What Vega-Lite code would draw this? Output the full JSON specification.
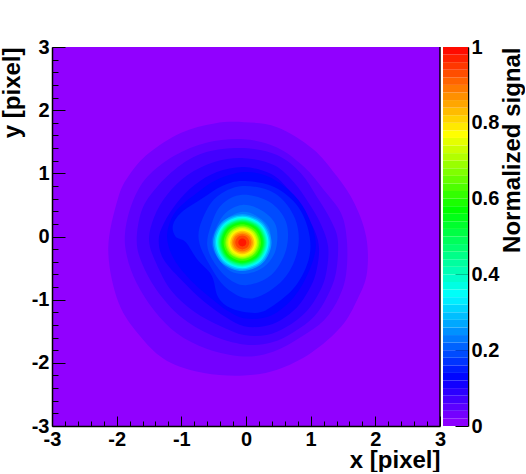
{"$schema":"https://vega.github.io/schema/vega-lite/v6.json","background":"white","padding":{"left":0,"top":37,"right":0,"bottom":0},"bounds":"flush","spacing":3,"config":{"axis":{"labelFont":"Liberation Sans","titleFont":"Liberation Sans","labelFontWeight":"bold","titleFontWeight":"bold","labelFontSize":20,"titleFontSize":24,"labelColor":"black","titleColor":"black","grid":false,"domainColor":"black","tickColor":"black","domainWidth":1.5,"tickWidth":1,"zindex":1,"labelFlush":false,"labelBound":false},"view":{"stroke":null}},
"datasets":{"contours":[
{"v":0.03,"i":0,"x":-0.03,"y":1.81},{"v":0.03,"i":1,"x":0.48,"y":1.73},{"v":0.03,"i":2,"x":1.03,"y":1.39},{"v":0.03,"i":3,"x":1.4,"y":0.96},{"v":0.03,"i":4,"x":1.68,"y":0.52},{"v":0.03,"i":5,"x":1.86,"y":-0.01},{"v":0.03,"i":6,"x":1.87,"y":-0.58},{"v":0.03,"i":7,"x":1.72,"y":-1.0},{"v":0.03,"i":8,"x":1.47,"y":-1.43},{"v":0.03,"i":9,"x":1.01,"y":-1.84},{"v":0.03,"i":10,"x":0.48,"y":-2.11},{"v":0.03,"i":11,"x":-0.03,"y":-2.2},{"v":0.03,"i":12,"x":-0.65,"y":-2.16},{"v":0.03,"i":13,"x":-1.22,"y":-1.97},{"v":0.03,"i":14,"x":-1.62,"y":-1.6},{"v":0.03,"i":15,"x":-1.97,"y":-1.05},{"v":0.03,"i":16,"x":-2.13,"y":-0.21},{"v":0.03,"i":17,"x":-1.98,"y":0.6},{"v":0.03,"i":18,"x":-1.8,"y":0.98},{"v":0.03,"i":19,"x":-1.5,"y":1.32},{"v":0.03,"i":20,"x":-1.01,"y":1.64},{"v":0.03,"i":21,"x":-0.49,"y":1.79},
{"v":0.05,"i":0,"x":-0.03,"y":1.54},{"v":0.05,"i":1,"x":0.48,"y":1.41},{"v":0.05,"i":2,"x":0.9,"y":1.1},{"v":0.05,"i":3,"x":1.21,"y":0.73},{"v":0.05,"i":4,"x":1.47,"y":0.37},{"v":0.05,"i":5,"x":1.56,"y":-0.06},{"v":0.05,"i":6,"x":1.55,"y":-0.58},{"v":0.05,"i":7,"x":1.44,"y":-0.96},{"v":0.05,"i":8,"x":1.21,"y":-1.32},{"v":0.05,"i":9,"x":0.85,"y":-1.59},{"v":0.05,"i":10,"x":0.43,"y":-1.82},{"v":0.05,"i":11,"x":-0.03,"y":-1.9},{"v":0.05,"i":12,"x":-0.6,"y":-1.78},{"v":0.05,"i":13,"x":-1.07,"y":-1.53},{"v":0.05,"i":14,"x":-1.42,"y":-1.17},{"v":0.05,"i":15,"x":-1.69,"y":-0.74},{"v":0.05,"i":16,"x":-1.84,"y":-0.32},{"v":0.05,"i":17,"x":-1.87,"y":0.06},{"v":0.05,"i":18,"x":-1.76,"y":0.53},{"v":0.05,"i":19,"x":-1.53,"y":0.94},{"v":0.05,"i":20,"x":-1.11,"y":1.28},{"v":0.05,"i":21,"x":-0.6,"y":1.49},
{"v":0.07,"i":0,"x":-0.03,"y":1.4},{"v":0.07,"i":1,"x":0.48,"y":1.29},{"v":0.07,"i":2,"x":0.85,"y":1.0},{"v":0.07,"i":3,"x":1.1,"y":0.62},{"v":0.07,"i":4,"x":1.31,"y":0.26},{"v":0.07,"i":5,"x":1.42,"y":-0.06},{"v":0.07,"i":6,"x":1.39,"y":-0.58},{"v":0.07,"i":7,"x":1.25,"y":-0.96},{"v":0.07,"i":8,"x":1.05,"y":-1.27},{"v":0.07,"i":9,"x":0.74,"y":-1.51},{"v":0.07,"i":10,"x":0.39,"y":-1.68},{"v":0.07,"i":11,"x":-0.03,"y":-1.71},{"v":0.07,"i":12,"x":-0.54,"y":-1.56},{"v":0.07,"i":13,"x":-1.01,"y":-1.27},{"v":0.07,"i":14,"x":-1.38,"y":-0.85},{"v":0.07,"i":15,"x":-1.61,"y":-0.42},{"v":0.07,"i":16,"x":-1.69,"y":-0.06},{"v":0.07,"i":17,"x":-1.61,"y":0.42},{"v":0.07,"i":18,"x":-1.38,"y":0.78},{"v":0.07,"i":19,"x":-1.01,"y":1.13},{"v":0.07,"i":20,"x":-0.6,"y":1.34},
{"v":0.09,"i":0,"x":-0.03,"y":1.24},{"v":0.09,"i":1,"x":0.43,"y":1.13},{"v":0.09,"i":2,"x":0.74,"y":0.86},{"v":0.09,"i":3,"x":0.97,"y":0.53},{"v":0.09,"i":4,"x":1.15,"y":0.21},{"v":0.09,"i":5,"x":1.27,"y":-0.16},{"v":0.09,"i":6,"x":1.24,"y":-0.58},{"v":0.09,"i":7,"x":1.13,"y":-0.89},{"v":0.09,"i":8,"x":0.93,"y":-1.19},{"v":0.09,"i":9,"x":0.63,"y":-1.43},{"v":0.09,"i":10,"x":0.32,"y":-1.56},{"v":0.09,"i":11,"x":-0.03,"y":-1.56},{"v":0.09,"i":12,"x":-0.39,"y":-1.42},{"v":0.09,"i":13,"x":-0.8,"y":-1.19},{"v":0.09,"i":14,"x":-1.16,"y":-0.85},{"v":0.09,"i":15,"x":-1.39,"y":-0.42},{"v":0.09,"i":16,"x":-1.5,"y":-0.06},{"v":0.09,"i":17,"x":-1.42,"y":0.31},{"v":0.09,"i":18,"x":-1.22,"y":0.66},{"v":0.09,"i":19,"x":-0.91,"y":0.97},{"v":0.09,"i":20,"x":-0.49,"y":1.18},
{"v":0.11,"i":0,"x":-0.03,"y":1.1},{"v":0.11,"i":1,"x":0.39,"y":0.99},{"v":0.11,"i":2,"x":0.66,"y":0.74},{"v":0.11,"i":3,"x":0.88,"y":0.42},{"v":0.11,"i":4,"x":1.06,"y":0.1},{"v":0.11,"i":5,"x":1.13,"y":-0.2},{"v":0.11,"i":6,"x":1.08,"y":-0.58},{"v":0.11,"i":7,"x":0.97,"y":-0.85},{"v":0.11,"i":8,"x":0.79,"y":-1.12},{"v":0.11,"i":9,"x":0.54,"y":-1.32},{"v":0.11,"i":10,"x":0.28,"y":-1.42},{"v":0.11,"i":11,"x":-0.03,"y":-1.42},{"v":0.11,"i":12,"x":-0.31,"y":-1.28},{"v":0.11,"i":13,"x":-0.65,"y":-1.03},{"v":0.11,"i":14,"x":-0.96,"y":-0.73},{"v":0.11,"i":15,"x":-1.27,"y":-0.37},{"v":0.11,"i":16,"x":-1.35,"y":-0.06},{"v":0.11,"i":17,"x":-1.27,"y":0.21},{"v":0.11,"i":18,"x":-1.07,"y":0.53},{"v":0.11,"i":19,"x":-0.8,"y":0.81},{"v":0.11,"i":20,"x":-0.45,"y":1.02},
{"v":0.13,"i":0,"x":-0.03,"y":1.02},{"v":0.13,"i":1,"x":0.36,"y":0.94},{"v":0.13,"i":2,"x":0.74,"y":0.66},{"v":0.13,"i":3,"x":0.97,"y":0.3},{"v":0.13,"i":4,"x":1.08,"y":-0.13},{"v":0.13,"i":5,"x":0.97,"y":-0.56},{"v":0.13,"i":6,"x":0.74,"y":-0.96},{"v":0.13,"i":7,"x":0.39,"y":-1.25},{"v":0.13,"i":8,"x":0.0,"y":-1.3},{"v":0.13,"i":9,"x":-0.28,"y":-1.18},{"v":0.13,"i":10,"x":-0.55,"y":-0.97},{"v":0.13,"i":11,"x":-0.82,"y":-0.73},{"v":0.13,"i":12,"x":-1.09,"y":-0.4},{"v":0.13,"i":13,"x":-1.21,"y":-0.1},{"v":0.13,"i":14,"x":-1.2,"y":0.15},{"v":0.13,"i":15,"x":-1.07,"y":0.42},{"v":0.13,"i":16,"x":-0.76,"y":0.69},{"v":0.13,"i":17,"x":-0.45,"y":0.9},
{"v":0.15,"i":0,"x":-0.06,"y":0.88},{"v":0.15,"i":1,"x":0.4,"y":0.8},{"v":0.15,"i":2,"x":0.77,"y":0.52},{"v":0.15,"i":3,"x":0.96,"y":0.12},{"v":0.15,"i":4,"x":0.98,"y":-0.32},{"v":0.15,"i":5,"x":0.77,"y":-0.78},{"v":0.15,"i":6,"x":0.4,"y":-1.11},{"v":0.15,"i":7,"x":0.15,"y":-1.21},{"v":0.15,"i":8,"x":-0.22,"y":-1.14},{"v":0.15,"i":9,"x":-0.43,"y":-0.96},{"v":0.15,"i":10,"x":-0.53,"y":-0.62},{"v":0.15,"i":11,"x":-0.75,"y":-0.37},{"v":0.15,"i":12,"x":-0.93,"y":-0.09},{"v":0.15,"i":13,"x":-1.09,"y":0.0},{"v":0.15,"i":14,"x":-1.13,"y":0.18},{"v":0.15,"i":15,"x":-1.0,"y":0.38},{"v":0.15,"i":16,"x":-0.68,"y":0.6},{"v":0.15,"i":17,"x":-0.37,"y":0.8},
{"v":0.17,"i":0,"x":-0.06,"y":0.8},{"v":0.17,"i":1,"x":0.45,"y":0.68},{"v":0.17,"i":2,"x":0.76,"y":0.28},{"v":0.17,"i":3,"x":0.8,"y":-0.21},{"v":0.17,"i":4,"x":0.57,"y":-0.69},{"v":0.17,"i":5,"x":0.1,"y":-0.98},{"v":0.17,"i":6,"x":-0.3,"y":-0.82},{"v":0.17,"i":7,"x":-0.58,"y":-0.42},{"v":0.17,"i":8,"x":-0.73,"y":-0.06},{"v":0.17,"i":9,"x":-0.68,"y":0.26},{"v":0.17,"i":10,"x":-0.46,"y":0.62},
{"v":0.19,"i":0,"x":-0.06,"y":0.66},{"v":0.19,"i":1,"x":0.36,"y":0.55},{"v":0.19,"i":2,"x":0.62,"y":0.23},{"v":0.19,"i":3,"x":0.62,"y":-0.21},{"v":0.19,"i":4,"x":0.39,"y":-0.61},{"v":0.19,"i":5,"x":0.0,"y":-0.77},{"v":0.19,"i":6,"x":-0.28,"y":-0.66},{"v":0.19,"i":7,"x":-0.5,"y":-0.4},{"v":0.19,"i":8,"x":-0.6,"y":-0.13},{"v":0.19,"i":9,"x":-0.54,"y":0.18},{"v":0.19,"i":10,"x":-0.38,"y":0.5},
{"v":0.21,"i":0,"x":-0.06,"y":0.5},{"v":0.21,"i":1,"x":0.23,"y":0.42},{"v":0.21,"i":2,"x":0.46,"y":0.18},{"v":0.21,"i":3,"x":0.46,"y":-0.21},{"v":0.21,"i":4,"x":0.28,"y":-0.48},{"v":0.21,"i":5,"x":0.0,"y":-0.59},{"v":0.21,"i":6,"x":-0.24,"y":-0.55},{"v":0.21,"i":7,"x":-0.42,"y":-0.37},{"v":0.21,"i":8,"x":-0.53,"y":-0.13},{"v":0.21,"i":9,"x":-0.48,"y":0.1},{"v":0.21,"i":10,"x":-0.32,"y":0.37},
{"v":0.23,"i":0,"x":-0.05,"y":0.39},{"v":0.23,"i":1,"x":0.17,"y":0.32},{"v":0.23,"i":2,"x":0.36,"y":0.13},{"v":0.23,"i":3,"x":0.36,"y":-0.18},{"v":0.23,"i":4,"x":0.2,"y":-0.42},{"v":0.23,"i":5,"x":-0.02,"y":-0.52},{"v":0.23,"i":6,"x":-0.23,"y":-0.49},{"v":0.23,"i":7,"x":-0.39,"y":-0.34},{"v":0.23,"i":8,"x":-0.48,"y":-0.13},{"v":0.23,"i":9,"x":-0.43,"y":0.07},{"v":0.23,"i":10,"x":-0.28,"y":0.29},
{"v":0.26,"i":0,"x":0.395,"y":-0.095},{"v":0.26,"i":1,"x":0.263,"y":0.225},{"v":0.26,"i":2,"x":-0.057,"y":0.357},{"v":0.26,"i":3,"x":-0.377,"y":0.225},{"v":0.26,"i":4,"x":-0.509,"y":-0.095},{"v":0.26,"i":5,"x":-0.377,"y":-0.415},{"v":0.26,"i":6,"x":-0.057,"y":-0.547},{"v":0.26,"i":7,"x":0.263,"y":-0.415},
{"v":0.3,"i":0,"x":0.372,"y":-0.095},{"v":0.3,"i":1,"x":0.246,"y":0.208},{"v":0.3,"i":2,"x":-0.057,"y":0.334},{"v":0.3,"i":3,"x":-0.36,"y":0.208},{"v":0.3,"i":4,"x":-0.486,"y":-0.095},{"v":0.3,"i":5,"x":-0.36,"y":-0.398},{"v":0.3,"i":6,"x":-0.057,"y":-0.524},{"v":0.3,"i":7,"x":0.246,"y":-0.398},
{"v":0.34,"i":0,"x":0.349,"y":-0.095},{"v":0.34,"i":1,"x":0.23,"y":0.192},{"v":0.34,"i":2,"x":-0.057,"y":0.311},{"v":0.34,"i":3,"x":-0.344,"y":0.192},{"v":0.34,"i":4,"x":-0.463,"y":-0.095},{"v":0.34,"i":5,"x":-0.344,"y":-0.382},{"v":0.34,"i":6,"x":-0.057,"y":-0.501},{"v":0.34,"i":7,"x":0.23,"y":-0.382},
{"v":0.38,"i":0,"x":0.333,"y":-0.095},{"v":0.38,"i":1,"x":0.219,"y":0.181},{"v":0.38,"i":2,"x":-0.057,"y":0.295},{"v":0.38,"i":3,"x":-0.333,"y":0.181},{"v":0.38,"i":4,"x":-0.447,"y":-0.095},{"v":0.38,"i":5,"x":-0.333,"y":-0.371},{"v":0.38,"i":6,"x":-0.057,"y":-0.485},{"v":0.38,"i":7,"x":0.219,"y":-0.371},
{"v":0.42,"i":0,"x":0.317,"y":-0.095},{"v":0.42,"i":1,"x":0.207,"y":0.169},{"v":0.42,"i":2,"x":-0.057,"y":0.279},{"v":0.42,"i":3,"x":-0.321,"y":0.169},{"v":0.42,"i":4,"x":-0.431,"y":-0.095},{"v":0.42,"i":5,"x":-0.321,"y":-0.359},{"v":0.42,"i":6,"x":-0.057,"y":-0.469},{"v":0.42,"i":7,"x":0.207,"y":-0.359},
{"v":0.46,"i":0,"x":0.302,"y":-0.095},{"v":0.46,"i":1,"x":0.197,"y":0.159},{"v":0.46,"i":2,"x":-0.057,"y":0.264},{"v":0.46,"i":3,"x":-0.311,"y":0.159},{"v":0.46,"i":4,"x":-0.416,"y":-0.095},{"v":0.46,"i":5,"x":-0.311,"y":-0.349},{"v":0.46,"i":6,"x":-0.057,"y":-0.454},{"v":0.46,"i":7,"x":0.197,"y":-0.349},
{"v":0.5,"i":0,"x":0.286,"y":-0.095},{"v":0.5,"i":1,"x":0.186,"y":0.148},{"v":0.5,"i":2,"x":-0.057,"y":0.248},{"v":0.5,"i":3,"x":-0.3,"y":0.148},{"v":0.5,"i":4,"x":-0.4,"y":-0.095},{"v":0.5,"i":5,"x":-0.3,"y":-0.338},{"v":0.5,"i":6,"x":-0.057,"y":-0.438},{"v":0.5,"i":7,"x":0.186,"y":-0.338},
{"v":0.54,"i":0,"x":0.271,"y":-0.095},{"v":0.54,"i":1,"x":0.175,"y":0.137},{"v":0.54,"i":2,"x":-0.057,"y":0.233},{"v":0.54,"i":3,"x":-0.289,"y":0.137},{"v":0.54,"i":4,"x":-0.385,"y":-0.095},{"v":0.54,"i":5,"x":-0.289,"y":-0.327},{"v":0.54,"i":6,"x":-0.057,"y":-0.423},{"v":0.54,"i":7,"x":0.175,"y":-0.327},
{"v":0.58,"i":0,"x":0.255,"y":-0.095},{"v":0.58,"i":1,"x":0.164,"y":0.126},{"v":0.58,"i":2,"x":-0.057,"y":0.217},{"v":0.58,"i":3,"x":-0.278,"y":0.126},{"v":0.58,"i":4,"x":-0.369,"y":-0.095},{"v":0.58,"i":5,"x":-0.278,"y":-0.316},{"v":0.58,"i":6,"x":-0.057,"y":-0.407},{"v":0.58,"i":7,"x":0.164,"y":-0.316},
{"v":0.62,"i":0,"x":0.232,"y":-0.095},{"v":0.62,"i":1,"x":0.147,"y":0.109},{"v":0.62,"i":2,"x":-0.057,"y":0.194},{"v":0.62,"i":3,"x":-0.261,"y":0.109},{"v":0.62,"i":4,"x":-0.346,"y":-0.095},{"v":0.62,"i":5,"x":-0.261,"y":-0.299},{"v":0.62,"i":6,"x":-0.057,"y":-0.384},{"v":0.62,"i":7,"x":0.147,"y":-0.299},
{"v":0.66,"i":0,"x":0.208,"y":-0.095},{"v":0.66,"i":1,"x":0.13,"y":0.092},{"v":0.66,"i":2,"x":-0.057,"y":0.17},{"v":0.66,"i":3,"x":-0.244,"y":0.092},{"v":0.66,"i":4,"x":-0.322,"y":-0.095},{"v":0.66,"i":5,"x":-0.244,"y":-0.282},{"v":0.66,"i":6,"x":-0.057,"y":-0.36},{"v":0.66,"i":7,"x":0.13,"y":-0.282},
{"v":0.7,"i":0,"x":0.193,"y":-0.095},{"v":0.7,"i":1,"x":0.12,"y":0.082},{"v":0.7,"i":2,"x":-0.057,"y":0.155},{"v":0.7,"i":3,"x":-0.234,"y":0.082},{"v":0.7,"i":4,"x":-0.307,"y":-0.095},{"v":0.7,"i":5,"x":-0.234,"y":-0.272},{"v":0.7,"i":6,"x":-0.057,"y":-0.345},{"v":0.7,"i":7,"x":0.12,"y":-0.272},
{"v":0.74,"i":0,"x":0.172,"y":-0.095},{"v":0.74,"i":1,"x":0.105,"y":0.067},{"v":0.74,"i":2,"x":-0.057,"y":0.134},{"v":0.74,"i":3,"x":-0.219,"y":0.067},{"v":0.74,"i":4,"x":-0.286,"y":-0.095},{"v":0.74,"i":5,"x":-0.219,"y":-0.257},{"v":0.74,"i":6,"x":-0.057,"y":-0.324},{"v":0.74,"i":7,"x":0.105,"y":-0.257},
{"v":0.78,"i":0,"x":0.153,"y":-0.095},{"v":0.78,"i":1,"x":0.091,"y":0.053},{"v":0.78,"i":2,"x":-0.057,"y":0.115},{"v":0.78,"i":3,"x":-0.205,"y":0.053},{"v":0.78,"i":4,"x":-0.267,"y":-0.095},{"v":0.78,"i":5,"x":-0.205,"y":-0.243},{"v":0.78,"i":6,"x":-0.057,"y":-0.305},{"v":0.78,"i":7,"x":0.091,"y":-0.243},
{"v":0.82,"i":0,"x":0.13,"y":-0.095},{"v":0.82,"i":1,"x":0.075,"y":0.037},{"v":0.82,"i":2,"x":-0.057,"y":0.092},{"v":0.82,"i":3,"x":-0.189,"y":0.037},{"v":0.82,"i":4,"x":-0.244,"y":-0.095},{"v":0.82,"i":5,"x":-0.189,"y":-0.227},{"v":0.82,"i":6,"x":-0.057,"y":-0.282},{"v":0.82,"i":7,"x":0.075,"y":-0.227},
{"v":0.86,"i":0,"x":0.107,"y":-0.095},{"v":0.86,"i":1,"x":0.059,"y":0.021},{"v":0.86,"i":2,"x":-0.057,"y":0.069},{"v":0.86,"i":3,"x":-0.173,"y":0.021},{"v":0.86,"i":4,"x":-0.221,"y":-0.095},{"v":0.86,"i":5,"x":-0.173,"y":-0.211},{"v":0.86,"i":6,"x":-0.057,"y":-0.259},{"v":0.86,"i":7,"x":0.059,"y":-0.211},
{"v":0.9,"i":0,"x":0.083,"y":-0.095},{"v":0.9,"i":1,"x":0.042,"y":0.004},{"v":0.9,"i":2,"x":-0.057,"y":0.045},{"v":0.9,"i":3,"x":-0.156,"y":0.004},{"v":0.9,"i":4,"x":-0.197,"y":-0.095},{"v":0.9,"i":5,"x":-0.156,"y":-0.194},{"v":0.9,"i":6,"x":-0.057,"y":-0.235},{"v":0.9,"i":7,"x":0.042,"y":-0.194},
{"v":0.94,"i":0,"x":0.052,"y":-0.095},{"v":0.94,"i":1,"x":0.02,"y":-0.018},{"v":0.94,"i":2,"x":-0.057,"y":0.014},{"v":0.94,"i":3,"x":-0.134,"y":-0.018},{"v":0.94,"i":4,"x":-0.166,"y":-0.095},{"v":0.94,"i":5,"x":-0.134,"y":-0.172},{"v":0.94,"i":6,"x":-0.057,"y":-0.204},{"v":0.94,"i":7,"x":0.02,"y":-0.172},
{"v":0.98,"i":0,"x":0.005,"y":-0.095},{"v":0.98,"i":1,"x":-0.013,"y":-0.051},{"v":0.98,"i":2,"x":-0.057,"y":-0.033},{"v":0.98,"i":3,"x":-0.101,"y":-0.051},{"v":0.98,"i":4,"x":-0.119,"y":-0.095},{"v":0.98,"i":5,"x":-0.101,"y":-0.139},{"v":0.98,"i":6,"x":-0.057,"y":-0.157},{"v":0.98,"i":7,"x":-0.013,"y":-0.139}
],"bar":[
{"a":0,"b":0.02,"m":0.01},{"a":0.02,"b":0.04,"m":0.03},{"a":0.04,"b":0.06,"m":0.05},{"a":0.06,"b":0.08,"m":0.07},{"a":0.08,"b":0.1,"m":0.09},{"a":0.1,"b":0.12,"m":0.11},{"a":0.12,"b":0.14,"m":0.13},{"a":0.14,"b":0.16,"m":0.15},{"a":0.16,"b":0.18,"m":0.17},{"a":0.18,"b":0.2,"m":0.19},{"a":0.2,"b":0.22,"m":0.21},{"a":0.22,"b":0.24,"m":0.23},{"a":0.24,"b":0.26,"m":0.25},{"a":0.26,"b":0.28,"m":0.27},{"a":0.28,"b":0.3,"m":0.29},{"a":0.3,"b":0.32,"m":0.31},{"a":0.32,"b":0.34,"m":0.33},{"a":0.34,"b":0.36,"m":0.35},{"a":0.36,"b":0.38,"m":0.37},{"a":0.38,"b":0.4,"m":0.39},{"a":0.4,"b":0.42,"m":0.41},{"a":0.42,"b":0.44,"m":0.43},{"a":0.44,"b":0.46,"m":0.45},{"a":0.46,"b":0.48,"m":0.47},{"a":0.48,"b":0.5,"m":0.49},{"a":0.5,"b":0.52,"m":0.51},{"a":0.52,"b":0.54,"m":0.53},{"a":0.54,"b":0.56,"m":0.55},{"a":0.56,"b":0.58,"m":0.57},{"a":0.58,"b":0.6,"m":0.59},{"a":0.6,"b":0.62,"m":0.61},{"a":0.62,"b":0.64,"m":0.63},{"a":0.64,"b":0.66,"m":0.65},{"a":0.66,"b":0.68,"m":0.67},{"a":0.68,"b":0.7,"m":0.69},{"a":0.7,"b":0.72,"m":0.71},{"a":0.72,"b":0.74,"m":0.73},{"a":0.74,"b":0.76,"m":0.75},{"a":0.76,"b":0.78,"m":0.77},{"a":0.78,"b":0.8,"m":0.79},{"a":0.8,"b":0.82,"m":0.81},{"a":0.82,"b":0.84,"m":0.83},{"a":0.84,"b":0.86,"m":0.85},{"a":0.86,"b":0.88,"m":0.87},{"a":0.88,"b":0.9,"m":0.89},{"a":0.9,"b":0.92,"m":0.91},{"a":0.92,"b":0.94,"m":0.93},{"a":0.94,"b":0.96,"m":0.95},{"a":0.96,"b":0.98,"m":0.97},{"a":0.98,"b":1,"m":0.99}
],"edge":[{"x":3}]},
"hconcat":[
{"width":388,"height":379,"view":{"fill":"#9100ff","stroke":null},
"resolve":{"axis":{"x":"independent","y":"independent"}},
"layer":[
{"data":{"name":"contours"},"mark":{"type":"line","filled":true,"interpolate":"cardinal-closed","strokeWidth":0},
"encoding":{
"x":{"field":"x","type":"quantitative","scale":{"domain":[-3,3],"nice":false,"zero":false},
"axis":{"orient":"bottom","values":[-3,-2,-1,0,1,2,3],"labelOverlap":false,"labelExpr":"datum.value + ''","tickSize":-10,"labelPadding":13,"title":"x [pixel]","titleAnchor":"end","titlePadding":-1}},
"y":{"field":"y","type":"quantitative","scale":{"domain":[-3,3],"nice":false,"zero":false},
"axis":{"orient":"left","values":[-3,-2,-1,0,1,2,3],"labelOverlap":false,"labelExpr":"datum.value + ''","tickSize":-13,"labelPadding":16,"title":"y [pixel]","titleAnchor":"end","titlePadding":7}},
"order":{"field":"i","type":"quantitative"},
"detail":{"field":"v"},
"color":{"field":"v","type":"quantitative","legend":null,"scale":{"domain":[0,0.125,0.345,0.57,0.77,1],"range":["#9900ff","#0000ff","#00ffff","#00ff00","#ffff00","#ff0000"],"interpolate":"rgb"}}}},
{"data":{"name":"edge"},"mark":{"type":"point","opacity":0},
"encoding":{
"x":{"field":"x","type":"quantitative","scale":{"domain":[-3,3],"nice":false,"zero":false},
"axis":{"orient":"bottom","values":[-2.8,-2.6,-2.4,-2.2,-1.8,-1.6,-1.4,-1.2,-0.8,-0.6,-0.4,-0.2,0.2,0.4,0.6,0.8,1.2,1.4,1.6,1.8,2.2,2.4,2.6,2.8],"labels":false,"domain":false,"tickSize":-5,"title":null}},
"y":{"field":"x","type":"quantitative","scale":{"domain":[-3,3],"nice":false,"zero":false},
"axis":{"orient":"left","values":[-2.8,-2.6,-2.4,-2.2,-1.8,-1.6,-1.4,-1.2,-0.8,-0.6,-0.4,-0.2,0.2,0.4,0.6,0.8,1.2,1.4,1.6,1.8,2.2,2.4,2.6,2.8],"labels":false,"domain":false,"tickSize":-6,"title":null}}}},
{"data":{"name":"edge"},"mark":{"type":"rule","color":"black","strokeWidth":1.5},"encoding":{"x":{"field":"x","type":"quantitative","axis":null}}}
]},
{"width":25,"height":379,"data":{"name":"bar"},"mark":{"type":"rect"},
"encoding":{
"y":{"field":"a","type":"quantitative","scale":{"domain":[0,1],"nice":false,"zero":false},
"axis":{"orient":"right","values":[0,0.2,0.4,0.6,0.8,1],"format":"~g","tickSize":-13,"labelPadding":16,"title":"Normalized signal","titleAnchor":"end","titleAngle":270,"titlePadding":26}},
"y2":{"field":"b"},
"color":{"field":"m","type":"quantitative","legend":null,"scale":{"domain":[0,0.125,0.345,0.57,0.77,1],"range":["#9900ff","#0000ff","#00ffff","#00ff00","#ffff00","#ff0000"],"interpolate":"rgb"}}}}
]}
